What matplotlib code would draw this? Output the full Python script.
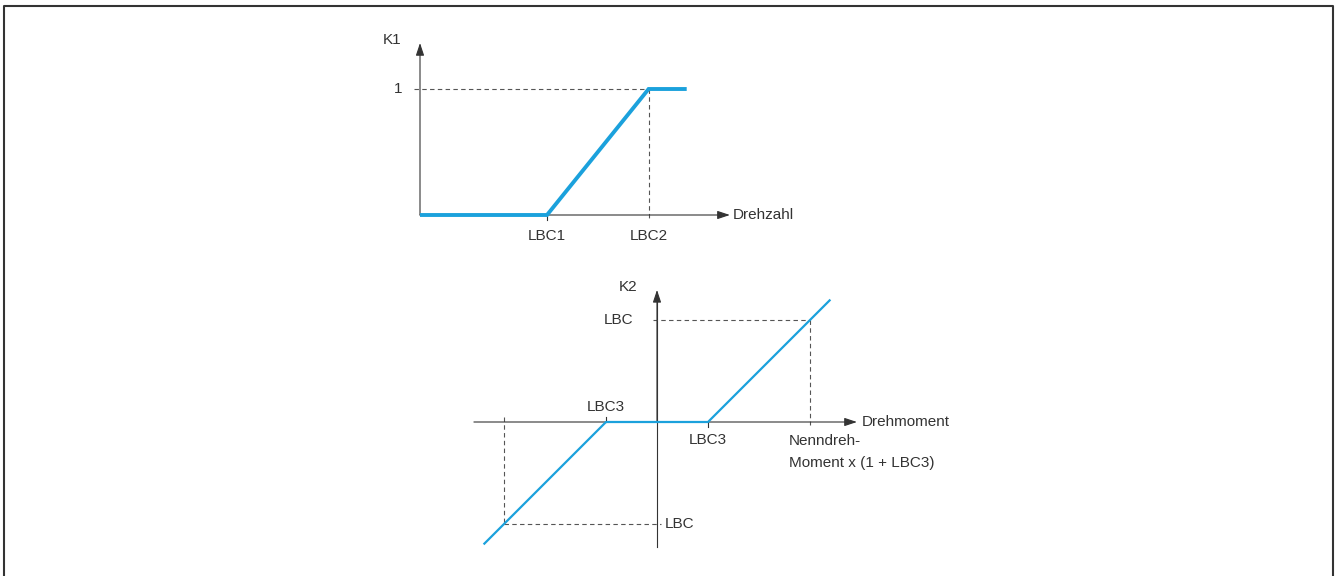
import matplotlib.pyplot as plt
from matplotlib.lines import Line2D

plt.rcParams['font.family'] = ['Liberation Sans', 'DejaVu Sans']

W, H = 1336, 576
blue = '#1ba1dc'
ink = '#333333'
dash = '#555555'
fs = 11

# K1 over speed (LBC1 = 1)
speed = [0.0, 1.0, 1.8, 2.1]
k1 = [0.0, 0.0, 1.0, 1.0]
lbc1, lbc2 = 1.0, 1.8

# K2 over torque (LBC3 = 1)
torque = [-3.4, -1.0, 1.0, 3.4]
k2 = [-2.4, 0.0, 0.0, 2.4]
lbc3 = 1.0
lbc = 2.0
rated = 3.0


def make_axes(x0, y0, unit_x, unit_y, xlim, ylim):
    # axes placed so that data origin lands on pixel (x0, y0)
    left = x0 + xlim[0] * unit_x
    right = x0 + xlim[1] * unit_x
    top = y0 - ylim[1] * unit_y
    bottom = y0 - ylim[0] * unit_y
    ax = fig.add_axes([left / W, 1 - bottom / H, (right - left) / W, (bottom - top) / H])
    ax.set_xlim(xlim)
    ax.set_ylim(ylim)
    ax.axis('off')
    return ax


def arrow(ax, start, end):
    ax.annotate('', xy=end, xytext=start,
                arrowprops=dict(arrowstyle='-|>,head_length=0.75,head_width=0.25',
                                color=ink, lw=0.8, shrinkA=0, shrinkB=0,
                                mutation_scale=10))


fig = plt.figure(figsize=(W / 100, H / 100), dpi=100)

# frame
fig.add_artist(Line2D([4 / W, 4 / W, 1333 / W, 1333 / W], [0, 1 - 6 / H, 1 - 6 / H, 0],
                      transform=fig.transFigure, color=ink, lw=1.5))

# --- top diagram ---
ax1 = make_axes(420, 215, 127, 126, (-0.35, 3.2), (-0.45, 1.5))
arrow(ax1, (0, 0), (2.44, 0))
arrow(ax1, (0, 0), (0, 1.365))
ax1.plot([-0.05, lbc2], [1, 1], ls=(0, (4, 3)), color=dash, lw=0.8)
ax1.plot([lbc2, lbc2], [1, -0.04], ls=(0, (4, 3)), color=dash, lw=0.8)
ax1.plot([lbc1, lbc1], [0, -0.04], color=ink, lw=0.8)
ax1.plot(speed, k1, color=blue, lw=2.8, solid_capstyle='butt', solid_joinstyle='miter', zorder=5)
ax1.text(-0.22, 1.39, 'K1', fontsize=fs, ha='center', va='center', color=ink)
ax1.text(-0.17, 1.0, '1', fontsize=fs, ha='center', va='center', color=ink)
ax1.text(2.465, 0, 'Drehzahl', fontsize=fs, ha='left', va='center', color=ink)
ax1.text(lbc1, -0.167, 'LBC1', fontsize=fs, ha='center', va='center', color=ink)
ax1.text(lbc2, -0.167, 'LBC2', fontsize=fs, ha='center', va='center', color=ink)

# --- bottom diagram ---
ax2 = make_axes(657, 422, 51, 51, (-3.8, 6.5), (-2.7, 2.9))
arrow(ax2, (-3.59, 0), (3.92, 0))
ax2.plot([0, 0], [-2.45, 2.4], color=ink, lw=0.8)
arrow(ax2, (0, 0), (0, 2.59))
ax2.plot([-0.08, rated], [lbc, lbc], ls=(0, (4, 3)), color=dash, lw=0.8)
ax2.plot([rated, rated], [lbc, -0.06], ls=(0, (4, 3)), color=dash, lw=0.8)
ax2.plot([-rated, 0.08], [-lbc, -lbc], ls=(0, (4, 3)), color=dash, lw=0.8)
ax2.plot([-rated, -rated], [0.1, -lbc], ls=(0, (4, 3)), color=dash, lw=0.8)
ax2.plot([-lbc3, -lbc3], [0, 0.1], color=ink, lw=0.8)
ax2.plot([lbc3, lbc3], [0, -0.1], color=ink, lw=0.8)
ax2.plot(torque, k2, color=blue, lw=1.6, solid_capstyle='butt', zorder=5)
ax2.text(-0.57, 2.65, 'K2', fontsize=fs, ha='center', va='center', color=ink)
ax2.text(-0.47, lbc, 'LBC', fontsize=fs, ha='right', va='center', color=ink)
ax2.text(0.16, -lbc, 'LBC', fontsize=fs, ha='left', va='center', color=ink)
ax2.text(-lbc3, 0.29, 'LBC3', fontsize=fs, ha='center', va='center', color=ink)
ax2.text(lbc3, -0.35, 'LBC3', fontsize=fs, ha='center', va='center', color=ink)
ax2.text(4.02, 0, 'Drehmoment', fontsize=fs, ha='left', va='center', color=ink)
ax2.text(2.59, -0.37, 'Nenndreh-', fontsize=fs, ha='left', va='center', color=ink)
ax2.text(2.59, -0.80, 'Moment x (1 + LBC3)', fontsize=fs, ha='left', va='center', color=ink)

fig.savefig('out.png', dpi=100)
